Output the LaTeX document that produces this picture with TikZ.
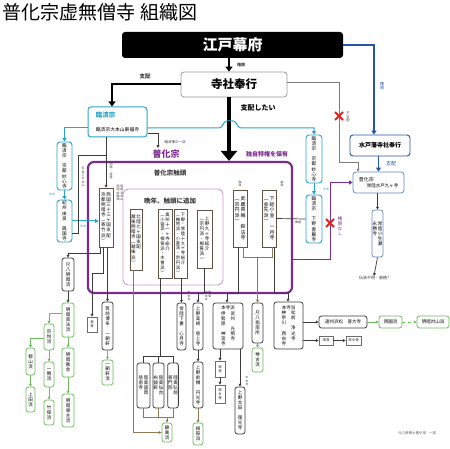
\documentclass[tikz,border=0pt]{standalone}
\usepackage{fontspec}
\setmainfont{Noto Sans CJK JP}
\usetikzlibrary{arrows.meta}
\definecolor{cy}{HTML}{2AA5C9}
\definecolor{bl}{HTML}{2456A4}
\definecolor{pu}{HTML}{7B2B8F}
\definecolor{pk}{HTML}{C89AC8}
\definecolor{gr}{HTML}{6DBA5B}
\definecolor{br}{HTML}{8C7B55}
\definecolor{dk}{HTML}{3C3C3C}
\definecolor{rd}{HTML}{E3231B}
\definecolor{gy}{HTML}{9A9A9A}
\definecolor{ib}{HTML}{5F5448}
\newcommand\fsz[1]{\fontsize{#1}{#1}\selectfont}
\def\vcolaux#1{\ifx\relax#1\else\hbox to 1em{\hss#1\hss}\expandafter\vcolaux\fi}
\newcommand\vcolx[1]{\vtop{\baselineskip=1.12em\lineskiplimit=-100pt\lineskip=0pt\vcolaux#1\relax}}
\newcommand\vcolxx[2]{\hbox{\vcolx{#2}\kern0.2em\vcolx{#1}}}
\newcommand\mybox[7]{\node[#2,minimum width={(#5-#3)*1pt},minimum height={(#6-#4)*1pt}] (#1) at ({(#3+#5)/2},{(#4+#6)/2}) {#7};}
\tikzset{
 tinyb/.style={inner sep=0.4pt, font=\fsz{4.5}, text=black},
 dbox/.style={tinyb, draw=dk, line width=0.8pt, rounded corners=2.5pt, fill=white},
 gbox/.style={tinyb, draw=gr, line width=0.8pt, rounded corners=2.5pt, fill=white},
 cbox/.style={tinyb, draw=cy, line width=0.9pt, rounded corners=3pt, fill=white, font=\fsz{4.6}},
 pbox/.style={tinyb, draw=ib, line width=0.6pt, fill=white},
 sbox/.style={tinyb, draw=gy!70!black, line width=0.6pt, fill=white, font=\fsz{3.5}},
 labx/.style={inner sep=0pt, font=\fsz{3}, text=dk},
 tipx/.style={-{Triangle[length=2.8pt,width=2.8pt]}},
 lnx/.style={draw=dk, line width=0.7pt},
 cnx/.style={lnx, tipx},
 gcnx/.style={draw=gr, line width=0.7pt, tipx},
 blnx/.style={draw=br, line width=0.7pt},
 bcnx/.style={blnx, tipx},
 ccnx/.style={draw=cy, line width=1pt, -{Triangle[length=3.5pt,width=4pt]}},
}
\begin{document}
\begin{tikzpicture}[x=1pt,y=-1pt]
\useasboundingbox (0,0) rectangle (450,449);
\fill[white] (0,0) rectangle (450,449);

% title
\node[anchor=west, inner sep=0pt, font=\fsz{19}] (title) at (2,12) {普化宗虚無僧寺\hspace{5pt}組織図};

% top level
\node[fill=black, rounded corners=3pt, minimum width=221pt, minimum height=26pt, text=white, font=\fsz{15}\bfseries] (bakufu) at (232.5,45) {江戸幕府};
\mybox{jisha}{draw=gy, line width=0.8pt, rounded corners=3pt, fill=white, font=\fsz{11.5}\bfseries}{181}{72}{287}{97}{寺社奉行}
\mybox{mito}{draw=bl, line width=0.9pt, rounded corners=3pt, fill=white, font=\fsz{6}\bfseries}{350}{135}{410}{156}{水戸藩寺社奉行}
\mybox{fukemito}{draw=bl!70, line width=0.8pt, rounded corners=3pt, fill=white, align=left, font=\fsz{4.5}}{353}{172}{404}{193}{{\fsz{5}普化宗}\\[1pt]\hspace*{8pt}常陸水戸九ヶ寺}
\mybox{eisho}{tinyb, draw=bl!70, line width=0.8pt, rounded corners=2.5pt, fill=white}{372}{210}{383}{257}{\vcolxx{常陸小生瀬}{永勝寺}}
\node[labx, font=\fsz{4}] (note) at (374,278) {伝承不明・廃絶?};

% rinzai
\mybox{rinzai}{draw=cy, line width=1pt, rounded corners=3pt, fill=white, align=left}{88}{107}{147}{137}{{\color{cy}\fsz{6.5}\bfseries 臨済宗}\\[2pt]{\fsz{4.8}臨済宗大本山東福寺}}
\mybox{C1}{cbox}{57}{142}{72}{190}{\vcolx{臨済宗　京都妙心寺}}
\mybox{C2}{cbox}{57}{200}{72}{242}{\vcolx{紀州由良　興国寺}}
\mybox{C3}{cbox}{306}{135}{322}{183}{\vcolx{臨済宗　京都妙心寺}}
\mybox{C4}{cbox}{306}{195}{322}{243}{\vcolx{臨済宗　下野雲巌寺}}

% fuke group
\mybox{fuke}{draw=pu, line width=2.2pt, rounded corners=6pt}{88}{162}{292}{293}{}
\mybox{late}{draw=pk, line width=0.9pt, rounded corners=5pt}{123}{189}{223}{285}{}
\node[font=\fsz{9}\bfseries, text=pu] (fukelab) at (166,154) {普化宗};
\node[font=\fsz{6}\bfseries, text=pu] (tokken) at (267,154) {独自特権を保有};
\node[font=\fsz{6.5}\bfseries, text=dk] (furelab) at (170,173) {普化宗触頭};
\node[font=\fsz{6.5}\bfseries, text=dk] (banlab) at (170,201) {晩年、触頭に追加};

\mybox{saigoku}{pbox}{99}{188}{113}{247}{\vcolxx{西国三十三ヶ国支配}{京都明暗寺︵寄竹派︶}}
\mybox{P1}{pbox}{130}{209}{142}{270}{\vcolxx{北陸七ヶ国支配}{越後明暗寺︵越後派︶}}
\mybox{P2}{pbox, font=\fsz{4.3}}{158}{209}{172}{278}{\vcolxx{奥州十一ヶ寺総介}{︵小菅派・根笹派・木曽派︶}}
\mybox{P3}{pbox, font=\fsz{4.3}}{174}{209}{187}{278}{\vcolxx{下野・常陸十九ヶ寺総介}{︵梅地派・小菅派・宗円派︶}}
\mybox{P4}{pbox}{197}{210}{212}{268}{\vcolxx{上野九ヶ寺総介}{︵宗円派・根笹派︶}}
\mybox{P5}{pbox, font=\fsz{5}}{233}{190}{247}{247}{\vcolxx{武蔵青梅　鈴法寺}{︵宗円派︶}}
\mybox{P6}{pbox, font=\fsz{5}}{262}{190}{276}{247}{\vcolxx{下総小金　一月寺}{︵金先派︶}}

% lower boxes
\mybox{A}{dbox}{62}{258}{74}{291}{\vcolx{尺八明暗流}}
\mybox{B}{gbox}{62}{303}{74}{337}{\vcolx{明暗真法流}}
\mybox{C}{gbox}{44}{324}{54}{350}{\vcolx{宗悦流}}
\mybox{D}{gbox}{26}{348}{35}{375}{\vcolx{都山流}}
\mybox{E}{gbox}{26}{387}{35}{412}{\vcolx{上田流}}
\mybox{F}{gbox}{44}{362}{54}{387}{\vcolx{一閑流}}
\mybox{G}{gbox}{44}{400}{54}{425}{\vcolx{竹保流}}
\mybox{H}{gbox}{62}{348}{74}{377}{\vcolx{明暗教会}}
\mybox{I}{gbox}{62}{394}{74}{427}{\vcolx{明暗導主流}}
\mybox{honji}{sbox}{87}{317}{97}{332}{\vcolx{本寺}}
\mybox{J}{dbox}{102}{302}{113}{350}{\vcolx{筑前博多　一朝軒}}
\mybox{K}{gbox}{102}{360}{113}{385}{\vcolx{一朝軒流}}
\mybox{L1}{dbox}{137}{363}{150}{408}{\vcolxx{陸奥盛岡}{慈恩寺}}
\mybox{L2}{dbox}{153}{363}{164}{408}{\vcolxx{陸奥仙台}{布袋軒}}
\mybox{L3}{dbox}{168}{363}{178}{408}{\vcolxx{陸奥弘前}{普門院}}
\mybox{M}{gbox}{162}{423}{172}{442}{\vcolx{錦風流}}
\mybox{N}{dbox}{177}{303}{186}{350}{\vcolx{常陸下妻　心月寺}}
\mybox{O}{dbox}{193}{303}{203}{350}{\vcolx{上野高崎　慈上寺}}
\mybox{P}{dbox}{193}{362}{203}{408}{\vcolx{上野前橋　円光寺}}
\mybox{Q}{gbox}{193}{423}{203}{445}{\vcolx{根笹派}}
\mybox{R}{dbox, align=center}{213}{303}{243}{349}{本寺派\\[1pt]\hbox{\vcolx{伊勢原　神宮寺}\kern5pt\vcolx{武州　光照寺}}}
\mybox{S}{sbox}{215}{361}{225}{377}{\vcolx{末寺}}
\mybox{T}{sbox}{215}{385}{225}{403}{\vcolx{末々寺}}
\mybox{U}{dbox}{235}{387}{245}{434}{\vcolx{上野太田　理光寺}}
\mybox{V}{dbox}{252}{303}{263}{343}{\vcolx{尺八指南所}}
\mybox{W}{gbox}{252}{348}{263}{372}{\vcolx{琴古流}}
\mybox{R2}{dbox, align=center}{274}{302}{303}{349}{本寺派\\[1pt]\hbox{\vcolx{神奈川　西向寺}\kern5pt\vcolx{松前　浄光寺}}}
\mybox{X}{dbox}{319}{316}{367}{328}{遠州浜松　普大寺}
\mybox{Y}{gbox}{379}{316}{402}{328}{西園流}
\mybox{Z}{gbox}{417}{316}{449}{328}{明暗対山派}
\mybox{AA}{sbox}{319}{336}{333}{345}{末寺}
\mybox{BB}{sbox}{346}{336}{361}{345}{末々寺}

% ---- connectors ----
\draw[line width=2pt, -{Triangle[length=5pt,width=7pt]}] (bakufu.south -| 229,0) -- (jisha.north -| 229,0);
\draw[line width=2pt, -{Triangle[length=5pt,width=7pt]}] (jisha.west) -- (112,84.5) -- (rinzai.north -| 112,0);
\draw[line width=4.5pt, -{Triangle[length=10pt,width=16pt]}] (jisha.south -| 229,0) -- (fuke.north -| 229,0);
\draw[draw=gy!80!black, line width=0.8pt, tipx] (jisha.east |- 0,82) -- (339,82) -- (339,162) -- (358,162) -- (fukemito.north -| 358,0);
\draw[draw=bl, line width=1.3pt, -{Triangle[length=4pt,width=5pt]}] (bakufu.east) -- (374,45) -- (mito.north -| 374,0);
\draw[draw=bl, line width=1.2pt, -{Triangle[length=4pt,width=5pt]}] (fukemito.north |- mito.south) -- (fukemito.north);
\draw[draw=bl!70!black, line width=0.7pt, tipx] (eisho.north |- fukemito.south) -- (eisho.north);
\draw[cnx] (eisho.south) -- (note.north);

\draw[ccnx] (rinzai.west |- 0,128) -| (C1.north);
\draw[ccnx] (C1.south) -- (C2.north);
\draw[ccnx] (C2.east) -- (saigoku.west |- C2.east);
\draw[ccnx] (rinzai.east |- 0,128) -- (219,128) .. controls (223,128) and (223,121) .. (227,121) -- (233,121) .. controls (237,121) and (237,128) .. (241,128) -| (C3.north);
\draw[ccnx] (C3.south) -- (C4.north);

\draw[cnx] (rinzai.east |- 0,133) -- (158,133) -- (158,148);
\draw[cnx] (saigoku.north |- rinzai.south) -- (saigoku.north);
\draw[lnx] (C2.east |- 0,233) -- (78,233) -- (78,155) -- (106,155);

\draw[draw=pu, line width=1pt, -{Triangle[length=3.5pt,width=4pt]}] (fuke.east |- 0,260) -- (330,260) -- (330,182.5) -- (fukemito.west);
\draw[lnx] (P6.east) -- (C4.west);

\draw[rd, line width=1.8pt] (335,112) -- (343,120) (335,120) -- (343,112);
\draw[rd, line width=1.8pt] (326,219) -- (334,227) (326,227) -- (334,219);

\draw[cnx] (saigoku.south -| 100,0) -- (100,253) -| (A.north);
\draw[cnx] (saigoku.south -| 103,0) -- (103,273) -| (honji.north);
\draw[cnx] (J.north |- saigoku.south) -- (J.north);
\draw[cnx] (A.south) -- (B.north);
\draw[gcnx] (B.west |- 0,313) -| (C.north);
\draw[gcnx] (B.south) -- (H.north);
\draw[gcnx] (C.west |- 0,338) -| (D.north);
\draw[gcnx] (C.south) -- (F.north);
\draw[gcnx] (D.south) -- (E.north);
\draw[gcnx] (F.south) -- (G.north);
\draw[gcnx] (H.south) -- (I.north);
\draw[gcnx] (J.south) -- (K.north);

\draw[bcnx] (P1.south -| 133,0) -- (133,432.5) -- (M.west);
\draw[lnx] (P2.south -| 160,0) -- (160,356);
\draw[lnx] (L1.north) -- (L1.north |- 0,356) -- (L3.north |- 0,356) -- (L3.north);
\draw[lnx] (L2.north) -- (L2.north |- 0,356);
\draw[blnx] (L1.south) -- (L1.south |- 0,417) -- (L3.south |- 0,417) -- (L3.south);
\draw[blnx] (L2.south) -- (L2.south |- 0,417);
\draw[bcnx] (M.north |- 0,417) -- (M.north);

\draw[cnx] (N.north |- P3.south) -- (N.north);
\draw[cnx] (P4.south) -- ++(0,25) -| (O.north);
\draw[cnx] (O.south) -- (P.north);
\draw[bcnx] (P.south) -- (Q.north);
\draw[cnx] (P5.south -| 238,0) -- (238,293) -| (R.north -| 227,0);
\draw[cnx] (S.north |- R.south) -- (S.north);
\draw[cnx] (S.south) -- (T.north);
\draw[cnx] (U.north |- R.south) -- (U.north);
\draw[blnx] (P5.south -| 243,0) -- (243,257) -- (272,257) -- (P6.south -| 272,0);
\draw[bcnx] (V.north |- 0,257) -- (V.north);
\draw[gcnx] (V.south) -- (W.north);
\draw[cnx] (P6.south -| 274,0) -- (274,293) -| (R2.north -| 288,0);
\draw[cnx] (R2.east |- X.west) -- (X.west);
\draw[gcnx] (X.east) -- (Y.west);
\draw[gcnx, dashed] (Y.east) -- (Z.west);
\draw[cnx] (R2.east |- AA.west) -- (AA.west);
\draw[cnx] (AA.east) -- (BB.west);

% ---- labels ----
\node[labx, font=\fsz{4}\bfseries] (l1) at (241,65) {権限};
\node[labx, font=\fsz{5.5}\bfseries] (l2) at (145,76) {支配};
\node[labx, font=\fsz{7}\bfseries, text=black] (l3) at (258,108) {支配したい};
\node[labx, font=\fsz{3.3}] (l4) at (348,117) {\vcolx{不支配}};
\node[labx, font=\fsz{4}, text=bl] (l5) at (382,86) {\vcolx{権限}};
\node[labx, font=\fsz{5}, text=bl] (l6) at (391,164) {支配};
\node[labx, font=\fsz{3.5}] (l7) at (175,142) {臨済禅の一派};
\node[labx, font=\fsz{3}, text=cy] (l8) at (52,194) {本末};
\node[labx, font=\fsz{3}, text=cy] (l9) at (83,226) {本末};
\node[labx, font=\fsz{3}, text=cy] (l10) at (326,189) {本末};
\node[labx] (l11) at (83,177) {\vcolx{伝承上の本山}};
\node[labx] (l12) at (111,171) {\vcolx{明暗・虚霊}};
\node[labx] (l13) at (120,193) {\vcolxx{明暗寺本山}{西国総触頭}};
\node[labx, font=\fsz{2.8}] (l14) at (240,184) {\vcolx{触頭}};
\node[labx, font=\fsz{2.8}] (l15) at (282,184) {\vcolx{触頭}};
\node[labx, font=\fsz{2.8}] (l16) at (189,296) {\vcolx{中本寺}};
\node[labx, font=\fsz{2.8}] (l17) at (208,296) {\vcolxx{触頭}{中本寺}};
\node[labx, font=\fsz{2.8}] (l18) at (247,381) {\vcolx{中本寺}};
\node[labx] (l19) at (298,222) {関連};
\node[labx, font=\fsz{4.5}, text=pu] (l20) at (340,226) {\vcolx{権限なし}};
\node[labx, font=\fsz{3.5}, text=gy!60!black] (l21) at (417,433) {元八郎博士著引用\hspace{3pt}一部};
\end{tikzpicture}
\end{document}
